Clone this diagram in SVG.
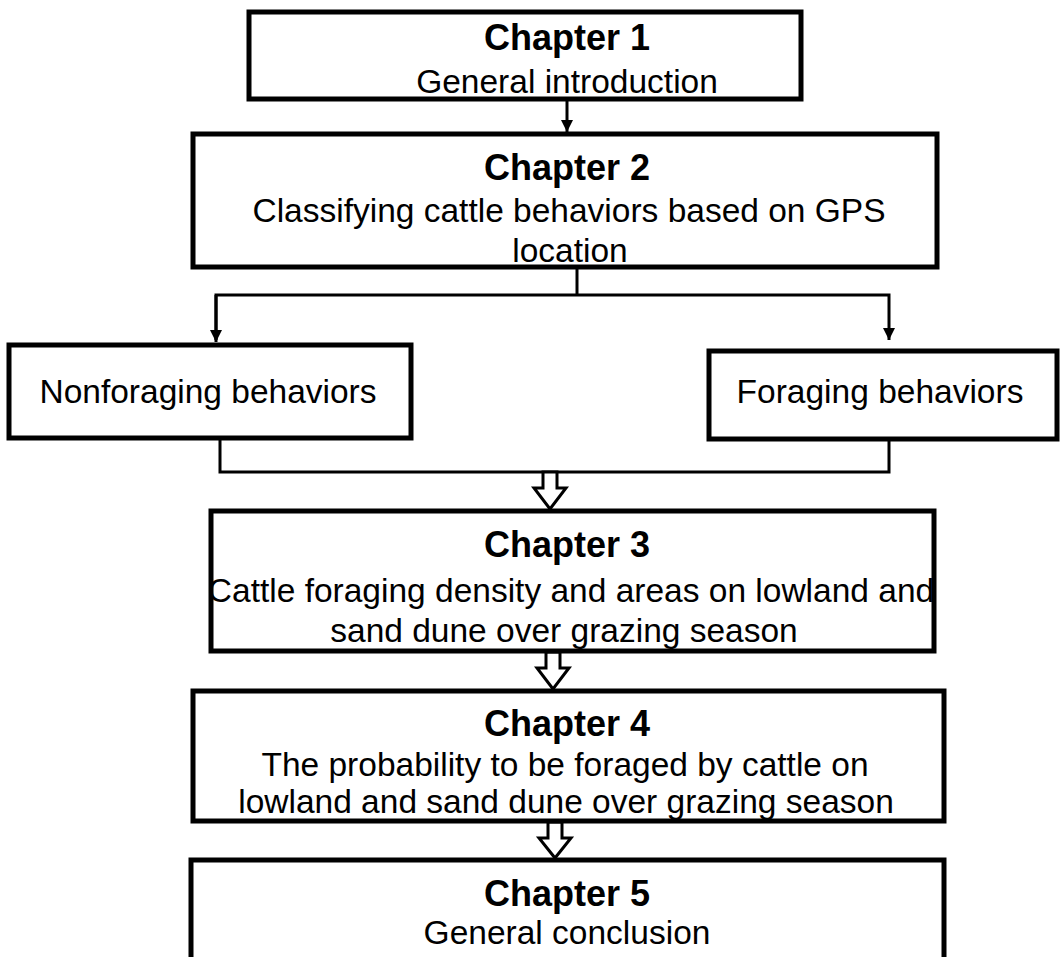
<svg xmlns="http://www.w3.org/2000/svg" width="1060" height="957" viewBox="0 0 1060 957">
<defs>
<style>
.box{fill:#fff;stroke:#000;stroke-width:5}
.t{font-family:"Liberation Sans",Arial,sans-serif;font-size:33.5px;fill:#000;text-anchor:middle}
.h{font-family:"Liberation Sans",Arial,sans-serif;font-size:36px;font-weight:bold;fill:#000;text-anchor:middle}
.ln{fill:none;stroke:#000;stroke-width:3}
.blk{fill:#fff;stroke:#000;stroke-width:3;stroke-linejoin:miter}
</style>
<marker id="ah" viewBox="0 0 10 10" refX="10" refY="5" markerWidth="4" markerHeight="4" markerUnits="strokeWidth" orient="auto">
<path d="M0,0 L10,5 L0,10 z" fill="#000"/>
</marker>
</defs>
<rect width="1060" height="957" fill="#fff"/>
<g id="connectors">
<line class="ln" x1="567" y1="100" x2="567" y2="132" marker-end="url(#ah)"/>
<polyline class="ln" points="577,268 577,295"/>
<polyline class="ln" points="216,340 216,295 889,295 889,340" marker-end="url(#ah)"/>
<line class="ln" x1="216" y1="295" x2="216" y2="342" marker-end="url(#ah)"/>
<polyline class="ln" points="220,440 220,472 889,472 889,440"/>
<path class="blk" d="M543,472 L557,472 L557,488 L566,488 L550,509 L534,488 L543,488 Z"/>
<path class="blk" d="M546,652 L560,652 L560,668 L569,668 L553,689 L537,668 L546,668 Z"/>
<path class="blk" d="M548,822 L562,822 L562,838 L571,838 L555,858 L539,838 L548,838 Z"/>
</g>
<g id="ch1">
<rect class="box" x="249" y="12" width="552" height="87"/>
<text class="h" x="567" y="50">Chapter 1</text>
<text class="t" x="567" y="93">General introduction</text>
</g>
<g id="ch2">
<rect class="box" x="193" y="134" width="744" height="133"/>
<text class="h" x="567" y="180">Chapter 2</text>
<text class="t" x="569" y="222">Classifying cattle behaviors based on GPS</text>
<text class="t" x="570" y="262">location</text>
</g>
<g id="nonforaging">
<rect class="box" x="9" y="345" width="402" height="93"/>
<text class="t" x="208" y="403">Nonforaging behaviors</text>
</g>
<g id="foraging">
<rect class="box" x="709" y="351" width="348" height="88"/>
<text class="t" x="880" y="403">Foraging behaviors</text>
</g>
<g id="ch3">
<rect class="box" x="211" y="511" width="723" height="140"/>
<text class="h" x="567" y="557">Chapter 3</text>
<text class="t" x="571" y="602">Cattle foraging density and areas on lowland and</text>
<text class="t" x="564" y="642">sand dune over grazing season</text>
</g>
<g id="ch4">
<rect class="box" x="193" y="691" width="751" height="130"/>
<text class="h" x="567" y="736">Chapter 4</text>
<text class="t" x="565" y="776">The probability to be foraged by cattle on</text>
<text class="t" x="566" y="813">lowland and sand dune over grazing season</text>
</g>
<g id="ch5">
<rect class="box" x="191" y="860" width="753" height="104"/>
<text class="h" x="567" y="906">Chapter 5</text>
<text class="t" x="567" y="944">General conclusion</text>
</g>
</svg>
